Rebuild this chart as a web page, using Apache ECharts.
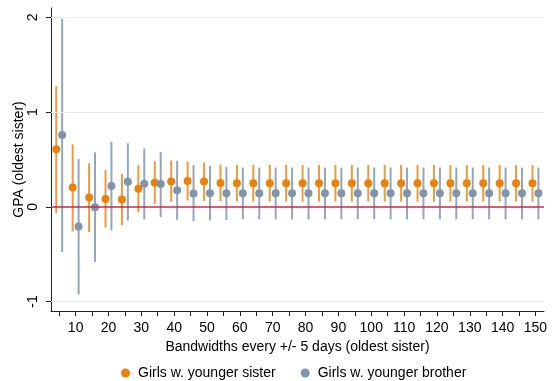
<!DOCTYPE html>
<html>
<head>
<meta charset="utf-8">
<script src="https://cdn.jsdelivr.net/npm/echarts@6/dist/echarts.min.js"></script>
<style>
  html, body { margin: 0; padding: 0; background: #fff; }
  #chart { width: 557px; height: 381px; }
</style>
</head>
<body>
<div id="chart"></div>
<script>
// Bandwidth (days) around the cutoff
const bandwidths = [5,10,15,20,25,30,35,40,45,50,55,60,65,70,75,80,85,90,95,100,105,110,115,120,125,130,135,140,145,150];

// Girls with a younger sister: point estimate and 95% CI
const sisterEst = [0.607,0.203,0.098,0.084,0.077,0.190,0.255,0.268,0.274,0.267,0.252,0.250,0.250,0.249,0.249,0.249,0.248,0.248,0.248,0.248,0.248,0.248,0.248,0.248,0.248,0.248,0.248,0.248,0.248,0.248];
const sisterLo  = [-0.067,-0.260,-0.267,-0.218,-0.193,-0.056,0.030,0.052,0.067,0.063,0.058,0.056,0.056,0.055,0.055,0.055,0.055,0.055,0.055,0.055,0.055,0.055,0.055,0.055,0.055,0.055,0.055,0.055,0.055,0.055];
const sisterHi  = [1.274,0.660,0.460,0.390,0.347,0.440,0.482,0.488,0.476,0.467,0.447,0.444,0.443,0.442,0.442,0.442,0.442,0.442,0.442,0.442,0.442,0.442,0.442,0.442,0.442,0.442,0.442,0.442,0.442,0.442];

// Girls with a younger brother: point estimate and 95% CI
const brotherEst = [0.758,-0.207,-0.003,0.221,0.265,0.244,0.242,0.175,0.142,0.144,0.144,0.144,0.144,0.144,0.144,0.144,0.144,0.144,0.144,0.144,0.144,0.144,0.144,0.144,0.144,0.144,0.144,0.144,0.144,0.144];
const brotherLo  = [-0.477,-0.926,-0.582,-0.250,-0.144,-0.132,-0.110,-0.137,-0.150,-0.144,-0.138,-0.132,-0.132,-0.132,-0.132,-0.132,-0.132,-0.132,-0.132,-0.132,-0.132,-0.132,-0.132,-0.132,-0.132,-0.132,-0.132,-0.132,-0.132,-0.132];
const brotherHi  = [1.986,0.505,0.575,0.688,0.672,0.617,0.579,0.486,0.440,0.432,0.422,0.415,0.415,0.415,0.415,0.415,0.415,0.415,0.415,0.415,0.415,0.415,0.415,0.415,0.415,0.415,0.415,0.415,0.415,0.415];

const xTicks = bandwidths;
const xLabels = [10,20,30,40,50,60,70,80,90,100,110,120,130,140,150];
const yTicks = [-1, 0, 1, 2];

const ORANGE = '#e8820c';
const ORANGE_BAR = '#ee9a3a';
const SLATE = '#8194aa';
const SLATE_BAR = '#93a6ba';
const DODGE = 0.9; // horizontal shift of each group around its bandwidth
const FONT = 'Liberation Sans, Arial, Helvetica, sans-serif';
const FS = 14;

function ciData(lo, hi, shift) {
  return bandwidths.map((b, i) => [b + shift, lo[i], hi[i]]);
}
function ptData(est, shift) {
  return bandwidths.map((b, i) => [b + shift, est[i]]);
}
function ciRender(color) {
  return function (params, api) {
    const top = api.coord([api.value(0), api.value(2)]);
    const bot = api.coord([api.value(0), api.value(1)]);
    return {
      type: 'line',
      shape: { x1: top[0], y1: top[1], x2: bot[0], y2: bot[1] },
      style: { stroke: color, lineWidth: 2 }
    };
  };
}

const chart = echarts.init(document.getElementById('chart'), null, { renderer: 'canvas' });
chart.setOption({
  animation: false,
  backgroundColor: '#ffffff',
  textStyle: { fontFamily: FONT },
  grid: { left: 51, right: 13, top: 8, bottom: 70, containLabel: false, outerBoundsMode: 'none' },
  legend: {
    left: 116, top: 361,
    itemWidth: 9, itemHeight: 9, itemGap: 25,
    icon: 'circle',
    textStyle: { fontFamily: FONT, fontSize: FS, color: '#000', padding: [0, 0, 0, 3] },
    data: ['Girls w. younger sister', 'Girls w. younger brother']
  },
  xAxis: {
    type: 'value', min: 2.5, max: 152.6,
    name: 'Bandwidths every +/- 5 days (oldest sister)',
    nameLocation: 'middle', nameGap: 26,
    nameTextStyle: { fontFamily: FONT, fontSize: FS, color: '#000' },
    axisLine: { show: true, onZero: false, lineStyle: { color: '#222', width: 1 } },
    axisTick: { show: true, customValues: xTicks, length: 5, lineStyle: { color: '#222' } },
    axisLabel: { customValues: xLabels, fontFamily: FONT, fontSize: FS, color: '#000', margin: 10 },
    splitLine: { show: false }
  },
  yAxis: {
    type: 'value', min: -1.1, max: 2.1,
    name: 'GPA (oldest sister)',
    nameLocation: 'middle', nameGap: 25, nameMoveOverlap: false,
    nameTextStyle: { fontFamily: FONT, fontSize: FS, color: '#000' },
    axisLine: { show: true, onZero: false, lineStyle: { color: '#222', width: 1 } },
    axisTick: { show: true, customValues: yTicks, length: 5, lineStyle: { color: '#222' } },
    axisLabel: { customValues: yTicks, rotate: 90, fontFamily: FONT, fontSize: FS, color: '#000', margin: 11 },
    splitLine: { show: false }
  },
  series: [
    {
      name: 'gridlines', type: 'line', data: [], silent: true, z: 1,
      markLine: {
        silent: true, symbol: ['none', 'none'], label: { show: false },
        lineStyle: { color: '#e4ecf2', width: 1, type: 'solid' },
        data: [{ yAxis: -1 }, { yAxis: 1 }, { yAxis: 2 }]
      }
    },
    {
      name: 'zero', type: 'line', data: [], silent: true, z: 2,
      markLine: {
        silent: true, symbol: ['none', 'none'], label: { show: false },
        lineStyle: { color: '#c8284a', width: 1.5, type: 'solid' },
        data: [{ yAxis: 0 }]
      }
    },
    {
      name: 'sisterCI', type: 'custom', z: 3,
      renderItem: ciRender(ORANGE_BAR),
      data: ciData(sisterLo, sisterHi, -DODGE)
    },
    {
      name: 'brotherCI', type: 'custom', z: 3,
      renderItem: ciRender(SLATE_BAR),
      data: ciData(brotherLo, brotherHi, DODGE)
    },
    {
      name: 'Girls w. younger sister', type: 'scatter', z: 4,
      symbol: 'circle', symbolSize: 8,
      itemStyle: { color: ORANGE, opacity: 1 },
      data: ptData(sisterEst, -DODGE)
    },
    {
      name: 'Girls w. younger brother', type: 'scatter', z: 4,
      symbol: 'circle', symbolSize: 8,
      itemStyle: { color: SLATE, opacity: 1 },
      data: ptData(brotherEst, DODGE)
    }
  ]
});
</script>
</body>
</html>
